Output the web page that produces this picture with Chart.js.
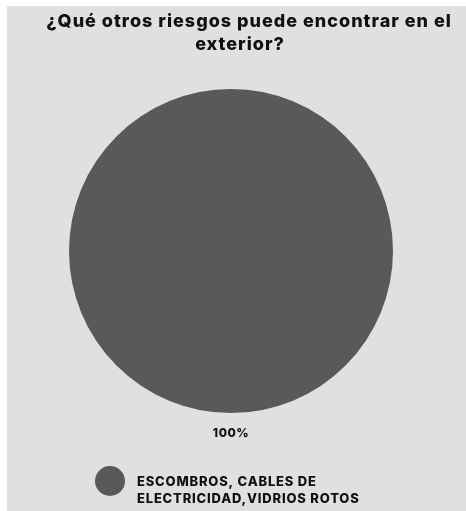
<!DOCTYPE html>
<html>
<head>
<meta charset="utf-8">
<script src="https://cdn.jsdelivr.net/npm/chart.js@4.4.0/dist/chart.umd.min.js"></script>
<style>
  html, body { margin: 0; padding: 0; background: #ffffff; overflow: hidden; }
  #panel { position: absolute; left: 7px; top: 6px; right: 0; bottom: 0; background: #e0e0e0; }
  #wrap { position: absolute; left: 0; top: 0; width: 466px; height: 511px; }
</style>
</head>
<body>
<div id="panel"></div>
<div id="wrap"><canvas id="chartRiesgos"></canvas></div>
<script>
const titleLines = ['¿Qué otros riesgos puede encontrar en el', 'exterior?'];
const categories = ['ESCOMBROS, CABLES DE ELECTRICIDAD,VIDRIOS ROTOS'];
const legendLines = [['ESCOMBROS, CABLES DE', 'ELECTRICIDAD,VIDRIOS ROTOS']];
const values = [100];
const colors = ['#595959'];

const FONT = "Inter, 'DejaVu Sans', sans-serif";

// title, percentage under the pie and the legend are painted by hand
const textPlugin = {
  id: 'textPlugin',
  afterDraw(chart) {
    const ctx = chart.ctx;
    const meta = chart.getDatasetMeta(0);
    const arc = meta.data[0];
    const total = values.reduce((a, b) => a + b, 0);
    ctx.save();
    ctx.fillStyle = '#111111';
    ctx.textAlign = 'center';
    ctx.textBaseline = 'middle';
    ctx.font = '800 18px ' + FONT;
    ctx.letterSpacing = '1px';
    ctx.fillText(titleLines[0], 249, 22);
    ctx.fillText(titleLines[1], 240, 45);

    // percentage label below the pie
    ctx.font = '800 12px ' + FONT;
    ctx.letterSpacing = '0.5px';
    const pct = Math.round(values[0] / total * 100) + '%';
    ctx.fillText(pct, arc.x, arc.y + arc.outerRadius + 20);

    // legend
    categories.forEach((c, i) => {
      ctx.beginPath();
      ctx.fillStyle = colors[i];
      ctx.arc(110, 481, 15, 0, Math.PI * 2);
      ctx.fill();
      ctx.fillStyle = '#111111';
      ctx.textAlign = 'left';
      ctx.font = '800 13px ' + FONT;
      ctx.letterSpacing = '0.8px';
      legendLines[i].forEach((line, j) => {
        ctx.fillText(line, 137, 482 + j * 17);
      });
    });
    ctx.restore();
  }
};

new Chart(document.getElementById('chartRiesgos'), {
  type: 'pie',
  data: {
    labels: categories,
    datasets: [{
      data: values,
      backgroundColor: colors,
      borderWidth: 0
    }]
  },
  options: {
    responsive: true,
    maintainAspectRatio: false,
    animation: false,
    layout: { padding: { left: 69, right: 73, top: 89, bottom: 98 } },
    plugins: {
      legend: { display: false },
      title: { display: false },
      tooltip: { enabled: false }
    }
  },
  plugins: [textPlugin]
});
</script>
</body>
</html>
